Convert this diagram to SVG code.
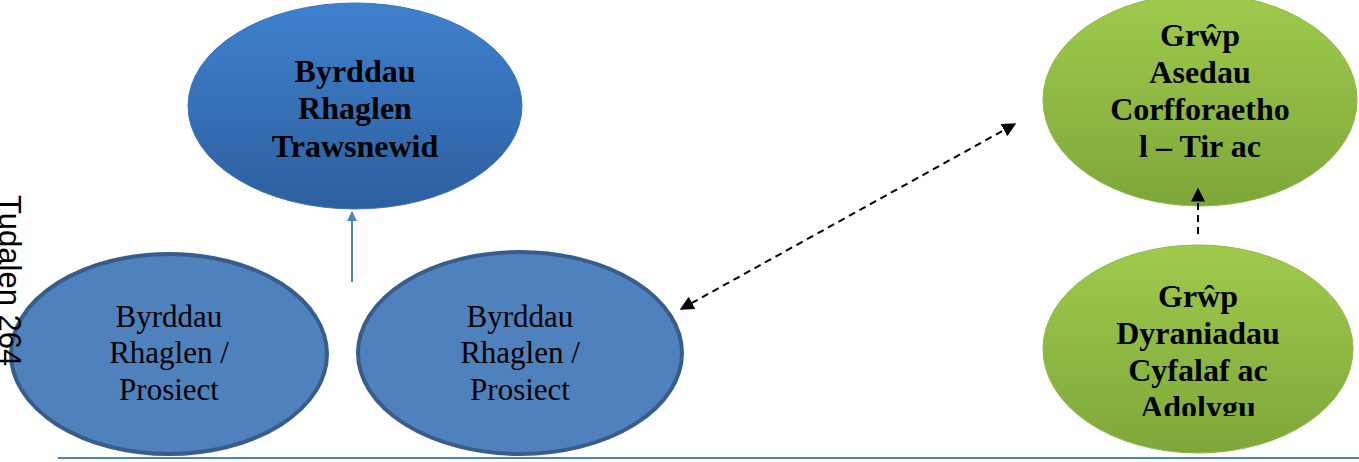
<svg xmlns="http://www.w3.org/2000/svg" width="1359" height="462" viewBox="0 0 1359 462">
<style>
.bold{font-family:"Liberation Serif",serif;font-weight:bold;font-size:32px;fill:#000;text-anchor:middle}
.reg{font-family:"Liberation Serif",serif;font-size:31px;fill:#000;text-anchor:middle}
.blueNode{fill:#4F81BD;stroke:#385D8A;stroke-width:4}
.dash{stroke:#000;stroke-width:2;stroke-dasharray:7,5;fill:none}
</style>
<defs>
<linearGradient id="gBlue" x1="0" y1="0" x2="0" y2="1">
<stop offset="0" stop-color="#3F81CE"/>
<stop offset="1" stop-color="#2D5F9E"/>
</linearGradient>
<linearGradient id="gGreen" x1="0" y1="0" x2="0" y2="1">
<stop offset="0" stop-color="#9FCA4C"/>
<stop offset="1" stop-color="#7EA73A"/>
</linearGradient>
<marker id="blkBig" viewBox="0 0 10 10" refX="9" refY="5" markerWidth="14" markerHeight="14" markerUnits="userSpaceOnUse" orient="auto-start-reverse">
<path d="M0,0 L10,5 L0,10 z" fill="#000"/>
</marker>
<marker id="blu" viewBox="0 0 10 10" refX="9" refY="5" markerWidth="10" markerHeight="10" markerUnits="userSpaceOnUse" orient="auto">
<path d="M0,0 L10,5 L0,10 z" fill="#4F81BD"/>
</marker>
<clipPath id="clipG2"><rect x="1040" y="240" width="320" height="176"/></clipPath>
<clipPath id="clipG1"><rect x="1040" y="0" width="320" height="165"/></clipPath>
</defs>

<g id="node-trawsnewid">
<ellipse cx="355" cy="106" rx="167" ry="103" fill="url(#gBlue)" stroke="#3A75BA" stroke-width="1"/>
<text class="bold" x="355" y="82">Byrddau</text>
<text class="bold" x="355" y="119">Rhaglen</text>
<text class="bold" x="355" y="157">Trawsnewid</text>
</g>

<g id="node-prosiect1">
<ellipse class="blueNode" cx="169" cy="354" rx="158" ry="100"/>
<text class="reg" x="169" y="327">Byrddau</text>
<text class="reg" x="169" y="363">Rhaglen /</text>
<text class="reg" x="169" y="400">Prosiect</text>
</g>

<g id="node-prosiect2">
<ellipse class="blueNode" cx="520" cy="353" rx="162" ry="101"/>
<text class="reg" x="520" y="327">Byrddau</text>
<text class="reg" x="520" y="363">Rhaglen /</text>
<text class="reg" x="520" y="400">Prosiect</text>
</g>

<g id="node-asedau">
<ellipse cx="1200" cy="100" rx="157" ry="106" fill="url(#gGreen)" stroke="#8DB945" stroke-width="1"/>
<g clip-path="url(#clipG1)">
<text class="bold" x="1200" y="46">Grŵp</text>
<text class="bold" x="1200" y="83">Asedau</text>
<text class="bold" x="1200" y="120">Corfforaetho</text>
<text class="bold" x="1200" y="157">l – Tir ac</text>
</g>
</g>

<g id="node-dyraniadau">
<ellipse cx="1198" cy="349" rx="155" ry="104" fill="url(#gGreen)" stroke="#8DB945" stroke-width="1"/>
<g clip-path="url(#clipG2)">
<text class="bold" x="1198" y="307">Grŵp</text>
<text class="bold" x="1198" y="344">Dyraniadau</text>
<text class="bold" x="1198" y="381">Cyfalaf ac</text>
<text class="bold" x="1198" y="418">Adolygu</text>
</g>
</g>

<g id="connectors">
<line x1="352" y1="282" x2="352" y2="212" stroke="#4F81BD" stroke-width="2" marker-end="url(#blu)"/>
<line class="dash" x1="681" y1="309" x2="1015" y2="124" marker-start="url(#blkBig)" marker-end="url(#blkBig)"/>
<line class="dash" x1="1198" y1="234" x2="1198" y2="189" marker-end="url(#blkBig)"/>
</g>

<line x1="58" y1="458" x2="1359" y2="458" stroke="#4F81BD" stroke-width="2"/>
<text x="-1" y="195" transform="rotate(90 -1 195)" style="font-family:'Liberation Sans',sans-serif;font-size:31px;fill:#000">Tudalen 264</text>
</svg>
